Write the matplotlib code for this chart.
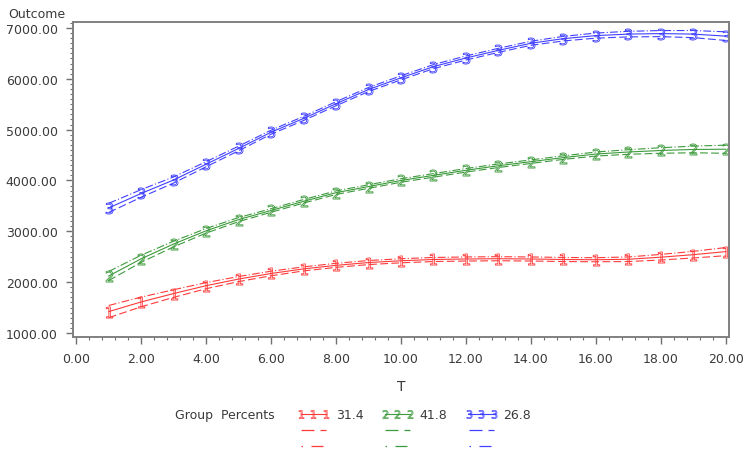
import matplotlib
matplotlib.use("Agg")
import matplotlib.pyplot as plt
from matplotlib.lines import Line2D
from matplotlib.ticker import MultipleLocator, AutoMinorLocator, FormatStrFormatter

# time points
T = list(range(1, 21))

# group 1 (red)
g1_mean = [1420, 1610, 1775, 1930, 2060, 2170, 2260, 2330, 2385, 2420,
           2445, 2455, 2460, 2455, 2445, 2440, 2450, 2490, 2540, 2600]
g1_upper = [1540, 1705, 1850, 1990, 2110, 2215, 2300, 2370, 2425, 2460,
            2485, 2495, 2500, 2495, 2485, 2480, 2495, 2545, 2605, 2680]
g1_lower = [1300, 1515, 1700, 1870, 2010, 2125, 2220, 2290, 2345, 2380,
            2405, 2415, 2420, 2415, 2405, 2400, 2405, 2435, 2475, 2520]

# group 2 (green)
g2_mean = [2120, 2460, 2750, 3010, 3230, 3410, 3590, 3760, 3880, 4000,
           4100, 4200, 4290, 4370, 4450, 4520, 4560, 4590, 4610, 4615]
g2_upper = [2210, 2530, 2805, 3055, 3270, 3445, 3625, 3795, 3915, 4035,
            4135, 4235, 4325, 4405, 4485, 4560, 4605, 4645, 4675, 4695]
g2_lower = [2030, 2390, 2695, 2965, 3190, 3375, 3555, 3725, 3845, 3965,
            4065, 4165, 4255, 4335, 4415, 4480, 4515, 4535, 4545, 4535]

# group 3 (blue)
g3_mean = [3460, 3745, 4010, 4320, 4630, 4950, 5220, 5510, 5790, 6020,
           6240, 6410, 6560, 6700, 6790, 6850, 6880, 6890, 6880, 6840]
g3_upper = [3550, 3820, 4070, 4370, 4675, 4990, 5260, 5550, 5830, 6060,
            6280, 6450, 6600, 6740, 6835, 6900, 6935, 6950, 6950, 6925]
g3_lower = [3370, 3670, 3950, 4270, 4585, 4910, 5180, 5470, 5750, 5980,
            6200, 6370, 6520, 6660, 6745, 6800, 6825, 6830, 6810, 6755]

group_pct = ["31.4", "41.8", "26.8"]
colors = ["#ff3a3a", "#3c9a3c", "#4040ff"]
symbols = ["$1$", "$2$", "$3$"]

txt = "#3a3a3a"
plt.rcParams['font.family'] = ['DejaVu Sans']

fig = plt.figure(figsize=(7.45, 4.52), dpi=100)
ax = fig.add_axes([73 / 745, 1 - 338 / 452, 656 / 745, 315 / 452])

groups = [(g1_mean, g1_upper, g1_lower),
          (g2_mean, g2_upper, g2_lower),
          (g3_mean, g3_upper, g3_lower)]

dashdot = (0, (7, 2, 1, 2))
dashed = (0, (7, 3))

for (m, up, lo), c, s in zip(groups, colors, symbols):
    ax.plot(T, m, color=c, lw=0.8, marker=s, markersize=8,
            markerfacecolor="none", markeredgecolor=c, markeredgewidth=0.6)
    ax.plot(T, up, color=c, lw=0.8, ls=dashdot)
    ax.plot(T, lo, color=c, lw=0.8, ls=dashed)

# legend: one column per group, rows = solid / dashed / dash-dot
handles = []
for c, s, pct in zip(colors, symbols, group_pct):
    handles.append(Line2D([], [], color=c, lw=0.8, marker=s, markersize=6,
                          markerfacecolor="none", markeredgecolor=c,
                          markeredgewidth=0.5, label=pct))
    handles.append(Line2D([], [], color=c, lw=0.9, ls=(0, (10.4, 4.8)), label=" "))
    handles.append(Line2D([], [], color=c, lw=0.9, ls=(0, (1.2, 6.8, 9.6, 6.8)), label=" "))

leg = fig.legend(handles=handles, ncol=3, loc="upper left",
                 bbox_to_anchor=(292 / 745, 1 - 404 / 452), frameon=False,
                 fontsize=9, handlelength=2.6, labelspacing=0.25, numpoints=3,
                 columnspacing=1.4, handletextpad=0.5, borderaxespad=0)
for t in leg.get_texts():
    t.set_color(txt)

fig.text(175 / 745, 1 - 416 / 452, "Group  Percents", fontsize=9, color=txt,
         va="center", ha="left")

ax.set_xlim(-0.1, 20.1)
ax.set_ylim(920, 7118)
ax.xaxis.set_major_locator(MultipleLocator(2))
ax.xaxis.set_minor_locator(MultipleLocator(0.4))
ax.yaxis.set_major_locator(MultipleLocator(1000))
ax.yaxis.set_minor_locator(AutoMinorLocator(10))
ax.xaxis.set_major_formatter(FormatStrFormatter("%.2f"))
ax.yaxis.set_major_formatter(FormatStrFormatter("%.2f"))
ax.tick_params(which="major", direction="out", length=5, width=1,
               colors="#707070", labelcolor=txt, labelsize=9, pad=6)
ax.tick_params(which="minor", direction="out", length=2.5, width=0.8,
               colors="#707070")

for sp in ax.spines.values():
    sp.set_color("#808080")
    sp.set_linewidth(1.4)

ax.set_xlabel("T", fontsize=10, color=txt, labelpad=10)
fig.text(8 / 745, 1 - 14 / 452, "Outcome", fontsize=9, color=txt,
         va="center", ha="left")

fig.savefig("out.png", dpi=100)
